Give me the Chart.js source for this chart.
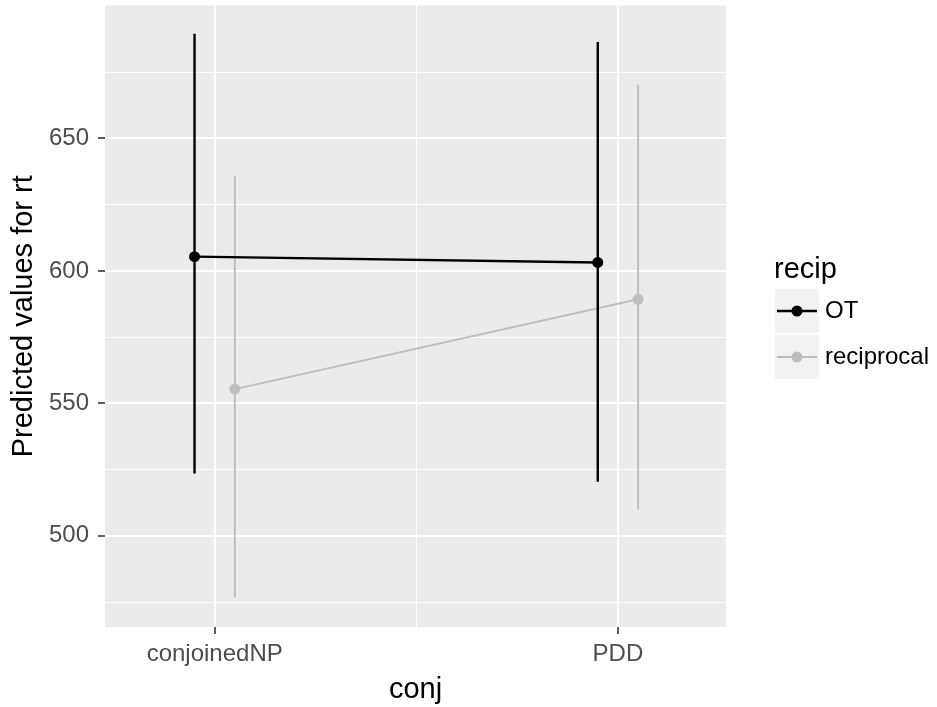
<!DOCTYPE html>
<html>
<head>
<meta charset="utf-8">
<script src="https://cdn.jsdelivr.net/npm/chart.js@4.4.0/dist/chart.umd.min.js"></script>
<style>
    body { margin: 0; background: #ffffff; }
</style>
</head>
<body>
<canvas id="grafico" width="937" height="707"></canvas>
<script>
// Datos
const categorias = ['conjoinedNP', 'PDD'];
const grupos = ['OT', 'reciprocal'];

const ajusteOT = [605.4, 603.2];
const bajoOT = [523.5, 520.4];
const altoOT = [689.5, 686.4];

const ajusteRecip = [555.4, 589.3];
const bajoRecip = [476.7, 509.9];
const altoRecip = [635.9, 670.3];

const ticksY = [500, 550, 600, 650];
const ticksYMenores = [475, 525, 575, 625, 675];

const colores = { OT: '#000000', reciprocal: '#BEBEBE' };
const fuente = '"Liberation Sans", Arial, sans-serif';
const esquiva = 0.05;

// Una serie: linea con puntos + una barra de error por categoria
function crearSerie(nombre, ajuste, bajo, alto, desplaz, grosor, orden) {
    const color = colores[nombre];
    const sets = [{
        label: nombre,
        data: categorias.map((c, i) => ({ x: i + 1 + desplaz, y: ajuste[i] })),
        borderColor: color,
        backgroundColor: color,
        borderWidth: grosor,
        pointRadius: 5.5,
        pointBorderWidth: 0,
        order: orden
    }];
    categorias.forEach((c, i) => {
        sets.push({
            label: nombre + ' error',
            data: [{ x: i + 1 + desplaz, y: bajo[i] }, { x: i + 1 + desplaz, y: alto[i] }],
            borderColor: color,
            borderWidth: grosor,
            pointRadius: 0,
            order: orden
        });
    });
    return sets;
}

// Fondo gris del panel
const fondoPanel = {
    id: 'fondoPanel',
    beforeDraw(chart) {
        const { ctx, chartArea: a } = chart;
        ctx.save();
        ctx.fillStyle = '#ffffff';
        ctx.fillRect(0, 0, chart.width, chart.height);
        ctx.fillStyle = '#EBEBEB';
        ctx.fillRect(a.left, a.top, a.right - a.left, a.bottom - a.top);
        ctx.restore();
    }
};

// Leyenda al estilo ggplot
const leyenda = {
    id: 'leyendaGG',
    afterDraw(chart) {
        const ctx = chart.ctx;
        ctx.save();
        ctx.font = '29px ' + fuente;
        ctx.fillStyle = '#000000';
        ctx.textBaseline = 'alphabetic';
        ctx.fillText('recip', 774, 278);
        grupos.forEach((g, i) => {
            const y0 = 289 + i * 46;
            const cy = y0 + 22;
            ctx.fillStyle = '#F2F2F2';
            ctx.fillRect(775, y0, 44, 44);
            ctx.strokeStyle = colores[g];
            ctx.lineWidth = g === 'OT' ? 2.4 : 2;
            ctx.beginPath();
            ctx.moveTo(777, cy);
            ctx.lineTo(817, cy);
            ctx.stroke();
            ctx.fillStyle = colores[g];
            ctx.beginPath();
            ctx.arc(797, cy, 5.5, 0, 2 * Math.PI);
            ctx.fill();
            ctx.fillStyle = '#000000';
            ctx.font = '24px ' + fuente;
            ctx.textBaseline = 'middle';
            ctx.fillText(g, 825, cy);
        });
        ctx.restore();
    }
};

const esMayorX = v => Number.isInteger(v);
const esMayorY = v => ticksY.includes(v);

const ctx = document.getElementById('grafico').getContext('2d');
new Chart(ctx, {
    type: 'line',
    data: {
        datasets: [
            ...crearSerie('OT', ajusteOT, bajoOT, altoOT, -esquiva, 2.4, 1),
            ...crearSerie('reciprocal', ajusteRecip, bajoRecip, altoRecip, esquiva, 2, 2)
        ]
    },
    options: {
        responsive: false,
        animation: false,
        devicePixelRatio: 1,
        layout: { padding: { top: 5, right: 211, bottom: 0, left: 0 } },
        plugins: {
            legend: { display: false },
            tooltip: { enabled: false }
        },
        scales: {
            x: {
                type: 'linear',
                min: 0.728,
                max: 2.268,
                afterBuildTicks: s => { s.ticks = [1, 1.5, 2].map(v => ({ value: v })); },
                afterFit: s => { s.height = 80; s.paddingLeft = 0; s.paddingRight = 0; },
                ticks: {
                    autoSkip: false,
                    maxRotation: 0,
                    minRotation: 0,
                    padding: 6,
                    color: '#4D4D4D',
                    font: { family: fuente, size: 24 },
                    callback: v => esMayorX(v) ? categorias[v - 1] : ''
                },
                grid: {
                    color: '#FFFFFF',
                    lineWidth: c => esMayorX(c.tick.value) ? 2 : 1,
                    tickLength: 7,
                    tickWidth: 1.6,
                    tickColor: c => esMayorX(c.tick.value) ? '#333333' : 'rgba(0,0,0,0)'
                },
                border: { display: false },
                title: {
                    display: true,
                    text: 'conj',
                    color: '#000000',
                    font: { family: fuente, size: 29, lineHeight: 1 },
                    padding: { top: 0, bottom: 3 }
                }
            },
            y: {
                min: 465.6,
                max: 700.2,
                afterBuildTicks: s => {
                    s.ticks = ticksY.concat(ticksYMenores).sort((a, b) => a - b).map(v => ({ value: v }));
                },
                afterFit: s => { s.width = 105; s.paddingTop = 0; s.paddingBottom = 0; },
                ticks: {
                    autoSkip: false,
                    padding: 9,
                    color: '#4D4D4D',
                    font: { family: fuente, size: 24 },
                    callback: v => esMayorY(v) ? String(v) : ''
                },
                grid: {
                    color: '#FFFFFF',
                    lineWidth: c => esMayorY(c.tick.value) ? 2 : 1,
                    tickLength: 7,
                    tickWidth: 1.6,
                    tickColor: c => esMayorY(c.tick.value) ? '#333333' : 'rgba(0,0,0,0)'
                },
                border: { display: false },
                title: {
                    display: true,
                    text: 'Predicted values for rt',
                    color: '#000000',
                    font: { family: fuente, size: 29, lineHeight: 1 },
                    padding: { top: 9, bottom: 0 }
                }
            }
        }
    },
    plugins: [fondoPanel, leyenda]
});
</script>
</body>
</html>
